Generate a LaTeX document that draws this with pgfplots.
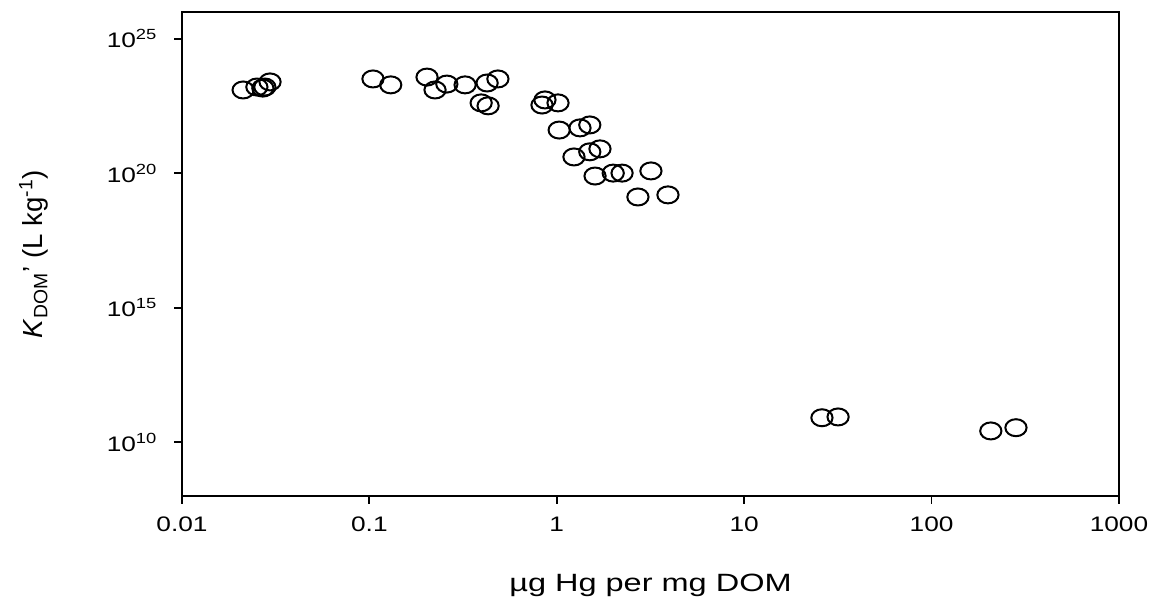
\documentclass[border=0pt]{standalone}
\usepackage{fontspec}
\setmainfont{Liberation Sans}
\usepackage{pgfplots}
\pgfplotsset{compat=1.18}
\usetikzlibrary{calc}

\begin{document}
\begin{tikzpicture}
\begin{axis}[
    scale only axis,
    width=468.5pt, height=242pt,
    xmode=log, ymode=log,
    xmin=0.01, xmax=1000,
    ymin=1e8, ymax=1e26,
    xtick={0.01,0.1,1,10,100,1000},
    xticklabels={0.01,0.1,1,10,100,1000},
    ytick={1e10,1e15,1e20,1e25},
    yticklabels={10\textsuperscript{10},10\textsuperscript{15},10\textsuperscript{20},10\textsuperscript{25}},
    xminorticks=false, yminorticks=false,
    xtick pos=left, ytick pos=left,
    tick align=outside,
    major tick length=4pt,
    tick style={line width=0.9pt, black},
    axis line style={line width=1pt},
    tick label style={font=\fontsize{10.5}{12}\selectfont, xscale=1.25},
    xticklabel style={yshift=-3pt},
    yticklabel style={xshift=-3pt},
    xlabel={µg Hg per mg DOM},
    ylabel={\textit{K}\textsubscript{DOM}’ (L kg\textsuperscript{-1})},
    xlabel style={font=\fontsize{12.5}{14}\selectfont, xscale=1.3,
                  at={(axis description cs:0.5,-0.184)}, anchor=center},
    ylabel style={font=\fontsize{13.8}{15}\selectfont,
                  at={(axis description cs:-0.158,0.5)}, anchor=center},
  ]
  \addplot[only marks, mark=o, mark size=4.25pt,
           mark options={xscale=1.25, line width=1pt, black}]
  coordinates {
    (0.0212,1.26e23) (0.0251,1.62e23) (0.0270,1.48e23) (0.0277,1.62e23) (0.0295,2.51e23)
    (0.1045,3.24e23) (0.130,1.95e23)
    (0.203,3.80e23) (0.224,1.26e23) (0.259,2.09e23) (0.324,1.95e23)
    (0.425,2.29e23) (0.485,3.24e23) (0.395,4.17e22) (0.430,3.24e22)
    (0.834,3.47e22) (0.865,5.37e22) (1.015,4.17e22)
    (1.03,4.07e21) (1.33,4.90e21) (1.50,6.31e21)
    (1.235,4.07e20) (1.50,6.31e20) (1.70,8.13e20)
    (1.60,7.94e19) (2.00,1.02e20) (2.23,1.02e20) (3.18,1.23e20)
    (2.71,1.32e19) (3.92,1.58e19)
    (26.0,8.13e10) (31.7,8.71e10)
    (207,2.63e10) (282,3.47e10)
  };
  \coordinate (sw) at (rel axis cs:0,0);
  \coordinate (ne) at (rel axis cs:1,1);
\end{axis}
\pgfresetboundingbox
\path[use as bounding box] ($(sw)+(-91pt,-52.5pt)$) rectangle ($(ne)+(17pt,6pt)$);
\end{tikzpicture}
\end{document}
